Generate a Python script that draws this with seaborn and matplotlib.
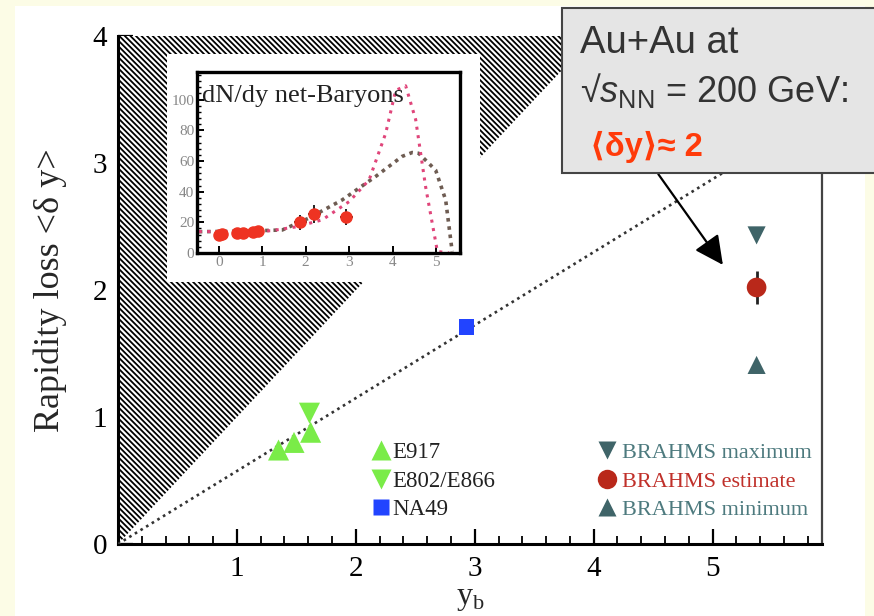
import numpy as np
import pandas as pd
import matplotlib
matplotlib.use('Agg')
import matplotlib.pyplot as plt
import seaborn as sns
from matplotlib.patches import Rectangle
from matplotlib.lines import Line2D
from matplotlib.ticker import MultipleLocator

# Main plot data (rapidity loss vs beam rapidity)
e917_x = [1.35, 1.48, 1.62]
e917_y = [0.74, 0.80, 0.88]
e802_x = [1.61]
e802_y = [1.03]
na49_x = [2.93]
na49_y = [1.71]
brahms_x = [5.37]
brahms_max = [2.43]
brahms_est = [2.02]
brahms_est_err = [0.13]
brahms_min = [1.41]
fit_x = [0.0, 5.9]
fit_y = [0.0, 3.39]
# unphysical region dy > y_b
hatch_x = [0.0, 0.0, 4.0]
hatch_y = [0.0, 4.0, 4.0]

# Inset: dN/dy net-baryons
inset_x = [0.0, 0.08, 0.42, 0.55, 0.78, 0.9, 1.88, 2.2, 2.93]
inset_y = [11.5, 12.5, 12.8, 13.2, 14.0, 14.5, 20.0, 25.5, 23.5]
inset_xerr = [0.1, 0.1, 0.1, 0.1, 0.1, 0.1, 0.15, 0.15, 0.15]
inset_yerr = [2, 2, 2, 2, 2, 2, 5, 6, 5]
curve1_x = [-0.46, 0.5, 1.46, 2.07, 2.84, 3.61, 4.22, 4.45, 4.6, 4.99, 5.22, 5.37]
curve1_y = [13.9, 14.2, 15.0, 22.7, 34.6, 49.9, 63.0, 65.5, 65.0, 54.0, 34.6, 1.0]
curve2_x = [-0.46, 0.5, 1.2, 1.77, 2.38, 3.0, 3.46, 3.84, 4.07, 4.3, 4.53, 4.76, 5.03, 5.3]
curve2_y = [14.0, 14.0, 14.5, 17.0, 21.6, 33.5, 47.7, 78.0, 106.0, 109.0, 87.0, 43.0, 1.0, 0.0]

sns.set_theme(style='white')
plt.rcParams['font.family'] = ['Liberation Serif', 'DejaVu Serif']
plt.rcParams['hatch.linewidth'] = 1.3
plt.rcParams['hatch.color'] = 'black'
plt.rcParams['mathtext.fontset'] = 'custom'
plt.rcParams['mathtext.rm'] = 'Liberation Sans'
plt.rcParams['mathtext.it'] = 'Liberation Sans:italic'

fig = plt.figure(figsize=(8.74, 6.16), dpi=100, facecolor='#fcfce6')
fig.patches.append(Rectangle((15 / 874, 0), 850 / 874, 610 / 616, transform=fig.transFigure,
                             facecolor='white', edgecolor='none', zorder=-1))

ax = fig.add_axes([118 / 874, 1 - 544 / 616, 704 / 874, 508 / 616])
ax.set_xlim(0, 5.92)
ax.set_ylim(0, 4)

ax.fill(hatch_x, hatch_y, facecolor='white', edgecolor='black', lw=0, hatch='\\' * 6, zorder=1)
ax.add_patch(Rectangle((0.41, 2.06), 2.63, 1.80, facecolor='white', edgecolor='none', zorder=2))

sns.lineplot(x=fit_x, y=fit_y, ax=ax, color='#333333', lw=1.9, linestyle=(0, (1, 1.5)), zorder=3)

green = '#7aec48'
teal = '#3f6468'
sns.scatterplot(x=e917_x, y=e917_y, ax=ax, marker='^', s=230, color=green, edgecolor='none', zorder=4)
sns.scatterplot(x=e802_x, y=e802_y, ax=ax, marker='v', s=230, color=green, edgecolor='none', zorder=4)
sns.scatterplot(x=na49_x, y=na49_y, ax=ax, marker='s', s=130, color='#2244ff', edgecolor='none', zorder=4)
sns.scatterplot(x=brahms_x, y=brahms_max, ax=ax, marker='v', s=170, color=teal, edgecolor='none', zorder=4)
sns.scatterplot(x=brahms_x, y=brahms_min, ax=ax, marker='^', s=170, color=teal, edgecolor='none', zorder=4)
ax.errorbar(brahms_x, brahms_est, yerr=brahms_est_err, fmt='none', ecolor='#222222', elinewidth=2, zorder=4)
sns.scatterplot(x=brahms_x, y=brahms_est, ax=ax, marker='o', s=200, color='#b9281a', edgecolor='none', zorder=5)

ax.annotate('', xy=(5.1, 2.18), xytext=(4.53, 2.93),
            arrowprops=dict(arrowstyle='-|>', mutation_scale=44, lw=1.6, color='black'), zorder=6)

for s in ax.spines.values():
    s.set_linewidth(2.2)
    s.set_color('black')
ax.spines['top'].set_visible(False)
ax.spines['right'].set_color('#444444')
ax.spines['right'].set_linewidth(1.6)
ax.xaxis.set_major_locator(MultipleLocator(1))
ax.xaxis.set_minor_locator(MultipleLocator(0.2))
ax.yaxis.set_major_locator(MultipleLocator(1))
ax.yaxis.set_minor_locator(MultipleLocator(0.2))
ax.tick_params(which='both', direction='in', colors='black', labelsize=21,
               left=True, bottom=True, top=False, right=False)
ax.tick_params(axis='x', pad=9)
ax.tick_params(axis='y', pad=8)
ax.tick_params(which='major', length=11, width=1.6)
ax.tick_params(which='minor', length=6, width=1.3)
ax.set_xticks([1, 2, 3, 4, 5])
ax.set_xlabel('y$_\\mathregular{b}$', fontsize=23)
ax.xaxis.set_label_coords(0.5, -0.078)
ax.set_ylabel('Rapidity loss <δ y>', fontsize=26, labelpad=18)

# legends
h1 = [Line2D([], [], marker='^', ls='none', ms=15, color=green, mec='none'),
      Line2D([], [], marker='v', ls='none', ms=15, color=green, mec='none'),
      Line2D([], [], marker='s', ls='none', ms=11, color='#2244ff', mec='none')]
leg1 = ax.legend(h1, ['E917', 'E802/E866', 'NA49'], loc='upper left', bbox_to_anchor=(0.36, 0.2),
                 frameon=False, fontsize=16.5, handlelength=0.8, handletextpad=0.1,
                 labelspacing=0.32, borderpad=0, borderaxespad=0)
for t in leg1.get_texts():
    t.set_color('#222222')
ax.add_artist(leg1)
h2 = [Line2D([], [], marker='v', ls='none', ms=13, color=teal, mec='none'),
      Line2D([], [], marker='o', ls='none', ms=14, color='#b9281a', mec='none'),
      Line2D([], [], marker='^', ls='none', ms=13, color=teal, mec='none')]
leg2 = ax.legend(h2, ['BRAHMS maximum', 'BRAHMS estimate', 'BRAHMS minimum'], loc='upper left',
                 bbox_to_anchor=(0.68, 0.2), frameon=False, fontsize=16, handlelength=0.9,
                 handletextpad=0.25, labelspacing=0.36, borderpad=0, borderaxespad=0)
for t, c in zip(leg2.get_texts(), ['#4d7a7e', '#c0302a', '#4d7a7e']):
    t.set_color(c)

# inset
ins = fig.add_axes([197 / 874, 1 - 253 / 616, 263 / 874, 181 / 616])
ins.set_facecolor('white')
sns.lineplot(x=curve1_x, y=curve1_y, ax=ins, color='#6e5c52', lw=2.6, linestyle=(0, (1, 1.3)))
sns.lineplot(x=curve2_x, y=curve2_y, ax=ins, color='#e0457a', lw=2.2, linestyle=(0, (1, 1.8)))
ins.errorbar(inset_x, inset_y, xerr=inset_xerr, yerr=inset_yerr, fmt='o', ms=8, color='#ee3322',
             ecolor='#222222', elinewidth=1.4, zorder=5)
ins.set_xlim(-0.5, 5.55)
ins.set_ylim(0, 118)
ins.xaxis.set_major_locator(MultipleLocator(1))
ins.yaxis.set_major_locator(MultipleLocator(20))
ins.yaxis.set_minor_locator(MultipleLocator(4))
ins.tick_params(which='both', direction='in', colors='black', labelcolor='#888888',
                labelsize=11, pad=2, left=True, bottom=True)
ins.tick_params(which='major', length=5, width=1.4)
ins.tick_params(which='minor', length=3, width=1.0)
for s in ins.spines.values():
    s.set_linewidth(2.4)
    s.set_color('black')
ins.text(0.02, 0.93, 'dN/dy net-Baryons', transform=ins.transAxes, fontsize=19,
         color='#222222', va='top', ha='left')

# annotation box
fig.patches.append(Rectangle((562 / 874, 1 - 173 / 616), 330 / 874, 165 / 616, transform=fig.transFigure,
                             facecolor='#e5e5e5', edgecolor='#444444', lw=1.5, zorder=1))
fig.text(580 / 874, 1 - 43 / 616, 'Au+Au at', fontsize=27.5, color='#333333', va='center',
         family='Liberation Sans', zorder=2)
fig.text(580 / 874, 1 - 90 / 616, '√$s_{\\mathrm{NN}}$ = 200 GeV:', fontsize=26, color='#333333',
         va='center', family=['Liberation Sans', 'DejaVu Sans'], zorder=2)
fig.text(590 / 874, 1 - 147 / 616, '⟨δy⟩≈ 2', fontsize=23.5, color='#ff3b0a', weight='bold',
         va='center', family=['Liberation Sans', 'DejaVu Sans'], zorder=2)

fig.savefig('out.png', dpi=100, facecolor=fig.get_facecolor())
